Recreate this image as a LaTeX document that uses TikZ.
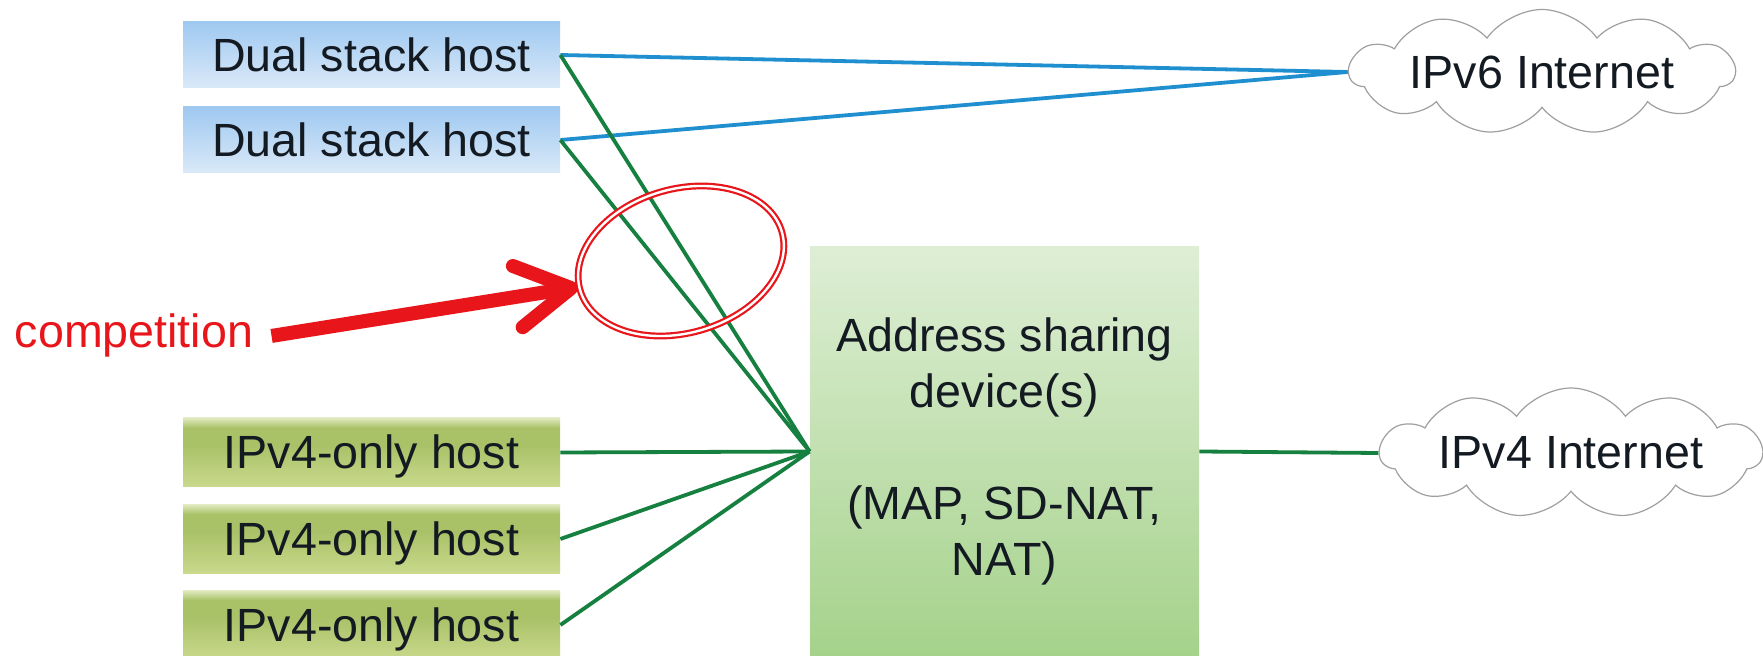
\documentclass[tikz,border=0pt]{standalone}
\usepackage{fontspec}
\setmainfont{Liberation Sans}
\usetikzlibrary{shapes.geometric,shapes.symbols,arrows.meta}
\definecolor{txt}{HTML}{141A22}
\definecolor{dualtop}{HTML}{9FC9F1}
\definecolor{dualbot}{HTML}{DAE9F8}
\definecolor{vtop}{HTML}{E0E9BE}
\definecolor{vmid}{HTML}{A9C268}
\definecolor{vbot}{HTML}{CAD98C}
\definecolor{atop}{HTML}{DEEED5}
\definecolor{abot}{HTML}{A5D28B}
\definecolor{lgreen}{HTML}{15803F}
\definecolor{lblue}{HTML}{1F8FCF}
\definecolor{cred}{HTML}{E8161B}
\pgfdeclareverticalshading{v4shade}{100bp}{color(0bp)=(vbot); color(25bp)=(vbot); color(55bp)=(vmid); color(68bp)=(vmid); color(75bp)=(vtop); color(100bp)=(vtop)}
\begin{document}
\begin{tikzpicture}[x=0.5pt,y=-0.5pt,
  every node/.style={font=\fontsize{23.3}{28}\selectfont, text=txt},
  hostbox/.style={rectangle, inner sep=0pt, minimum width=188.5pt, text height=16.5pt, text depth=0pt},
  dualbox/.style={hostbox, minimum height=33pt, top color=dualtop, bottom color=dualbot},
  vfourbox/.style={hostbox, minimum height=34.5pt, shading=v4shade},
  asdbox/.style={rectangle, inner sep=0pt, minimum width=194.5pt, minimum height=204.5pt, top color=atop, bottom color=abot, align=center},
  cloudn/.style={cloud, draw=gray!75, line width=0.6pt, cloud puffs=11, cloud puff arc=110, cloud ignores aspect, inner sep=0pt},
  vsixline/.style={draw=lblue, line width=1.9pt},
  vfourline/.style={draw=lgreen, line width=1.9pt},
  compell/.style={ellipse, draw=cred, line width=1.1pt, double=white, double distance=1.2pt, minimum width=105pt, minimum height=72pt, inner sep=0pt},
  comparrow/.style={draw=cred, line width=7pt, -{Straight Barb[length=27pt,width=31pt,round]}}
]
\useasboundingbox (0,0) rectangle (1763,656);
\fill[white] (0,0) rectangle (1763,656);

\node[dualbox] (d1) at (371.5,55) {Dual stack host};
\node[dualbox] (d2) at (371.5,140) {Dual stack host};
\node[vfourbox] (h1) at (371.5,452.5) {IPv4-only host};
\node[vfourbox] (h2) at (371.5,539) {IPv4-only host};
\node[vfourbox] (h3) at (371.5,625) {IPv4-only host};
\node[asdbox] (asd) at (1004.5,451.5) {Address sharing\\device(s)\\[28pt](MAP, SD-NAT,\\NAT)};
\node[cloudn, minimum width=192.5pt, minimum height=62.5pt] (v6) at (1542,72) {IPv6 Internet};
\node[cloudn, minimum width=191pt, minimum height=65pt] (v4) at (1571,453) {IPv4 Internet};
\node[anchor=base, text=cred, inner xsep=9pt] (comp) at (134,348) {competition};

\draw[vsixline] (d1.east) -- (v6.west);
\draw[vsixline] (d2.east) -- (v6.west);
\draw[vfourline] (d1.east) -- (asd.west);
\draw[vfourline] (d2.east) -- (asd.west);
\draw[vfourline] (h1.east) -- (asd.west);
\draw[vfourline] (h2.east) -- (asd.west);
\draw[vfourline] (h3.east) -- (asd.west);
\draw[vfourline] (asd.east) -- (v4.west);

\node[compell, rotate=16] (ell) at (681,261) {};
\coordinate (tip) at (578,287);
\draw[comparrow] (comp.east) -- (tip);
\end{tikzpicture}
\end{document}
